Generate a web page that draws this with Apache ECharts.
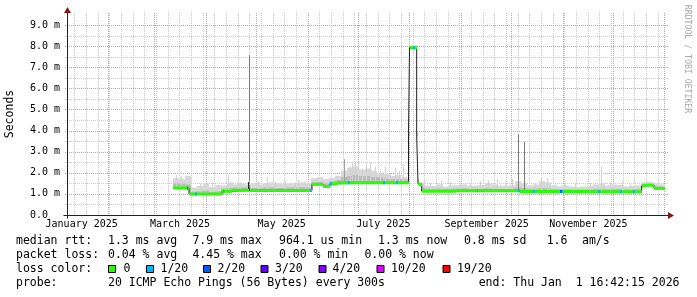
<!DOCTYPE html>
<html><head><meta charset="utf-8">
<script src="https://cdn.jsdelivr.net/npm/echarts@6/dist/echarts.min.js"></script>
<style>html,body{margin:0;padding:0;background:#fff}#c{width:697px;height:297px}</style>
</head><body><div id="c"></div>
<script>
// ---------------- data (days since 2025-01-01 00:00) ----------------
const xMinDay = 6.6, xMaxDay = 366.6;
const yMaxMs = 9.4737;
const yTickValues = [0,1,2,3,4,5,6,7,8,9];
const monthStartDays = [31,59,90,120,151,181,212,243,273,304,334,365];
const firstSunday = 11;
const xLabelNames = ['January 2025','March 2025','May 2025','July 2025','September 2025','November 2025'];
const xLabelDays  = [15.4, 74.4, 135.4, 196.4, 258.4, 319.4];

// median rtt (ms), step values starting at each day
const medDays = [70.2, 79.8, 99.6, 105.6, 115.5, 116.1, 153.6, 160.2, 164.4, 168.6, 211.5, 212.1, 216.4, 217.2, 217.8, 219.4, 240, 278.4, 320, 351.4, 352.6, 358.8];
const medVals = [1.28, 0.99, 1.12, 1.17, 1.55, 1.16, 1.45, 1.35, 1.48, 1.53, 3.87, 7.92, 3.80, 1.48, 1.44, 1.13, 1.15, 1.11, 1.10, 1.37, 1.41, 1.26];
const medEnd = 365.4;

// loss colouring spots (day, loss bucket index)
const lossDays   = [78.4, 83.4, 100.0, 152.4, 164.4, 175.2, 196.2, 204.0, 214.2, 252.4, 277.2, 286.2, 302.4, 303.3, 314.8, 325.2, 338.4, 346.2];
const lossLevels = [2, 1, 1, 1, 1, 1, 1, 1, 1, 1, 1, 1, 2, 1, 1, 1, 1, 1];
const lossSpotWidth = 0.9;

// smoke (ms): bins of 3.6 days from day 70.2
const smokeStart = 70.2, smokeStep = 3.6;
const smokeTop = [1.75,1.7,1.85,1.3,1.38,1.5,1.32,1.42,1.4,1.55, 1.45,1.5,1.45,1.5,1.45,1.52,1.55,1.5,1.47,1.5, 1.52,1.55,1.5,1.75,1.8,1.7,1.75,1.85,2.1,2.25, 2.3,2.15,2.2,2.1,2.0,1.95,1.85,1.9,1.8,1.75, 1.7,1.55,1.4,1.38,1.45,1.35,1.4,1.42,1.45,1.38, 1.4,1.42,1.5,1.45,1.4,1.38,1.42,1.6,1.5,1.4, 1.45,1.6,1.55,1.4,1.35,1.38,1.35,1.32,1.35,1.38, 1.45,1.5,1.4,1.45,1.42,1.35,1.38,1.4,1.55,1.58, 1.5,1.45];
const smokeCore = [1.5,1.48,1.45,1.1,1.12,1.15,1.1,1.12,1.25,1.28, 1.3,1.3,1.3,1.28,1.27,1.3,1.3,1.28,1.28,1.3, 1.3,1.32,1.3,1.55,1.57,1.5,1.6,1.65,1.8,1.85, 1.9,1.85,1.85,1.8,1.78,1.72,1.7,1.7,1.68,1.65, 1.6,1.3,1.25,1.24,1.25,1.24,1.25,1.26,1.27,1.25, 1.24,1.25,1.27,1.25,1.24,1.23,1.25,1.3,1.28,1.24, 1.25,1.28,1.27,1.23,1.22,1.22,1.21,1.2,1.21,1.22, 1.24,1.25,1.23,1.24,1.24,1.22,1.22,1.23,1.47,1.48, 1.36,1.34];

// single-step smoke spikes
const spikeDays   = [72.0, 75.0, 86.4, 93.6, 103.0, 109.0, 110.4, 115.8, 121.2, 126.4, 131.4, 137.4, 143.4, 145.0, 149.4,
                     173.0, 176.4, 177.6, 179.4, 181.2, 183.6, 186.0, 188.4, 191.4, 194.4, 197.4, 200.4, 203.4, 205.8, 208.0,
                     224.4, 231.0, 236.4, 242.4, 248.4, 254.4, 259.0, 264.6, 269.4, 273.6, 277.2, 280.8, 287.4, 291.0, 294.6,
                     299.4, 305.4, 311.4, 320.4, 327.0, 332.4, 339.6, 344.4];
const spikeTops   = [1.9, 1.85, 1.5, 1.55, 1.9, 1.6, 1.55, 7.58, 1.6, 1.8, 1.6, 1.6, 1.55, 1.65, 1.6,
                     2.64, 2.3, 2.5, 2.55, 2.45, 2.2, 2.4, 2.5, 2.3, 2.1, 2.3, 2.0, 2.25, 2.1, 2.4,
                     1.5, 1.65, 1.55, 1.5, 1.5, 1.6, 1.65, 1.7, 1.55, 1.7, 3.82, 3.47, 1.5, 1.8, 1.75,
                     1.45, 1.55, 1.5, 1.5, 2.3, 1.55, 1.6, 1.45];
const spikeShades = [0, 0, 0, 0, 0, 0, 0, 2, 0, 0, 0, 0, 0, 0, 0,
                     1, 0, 0, 0, 0, 0, 0, 0, 0, 0, 0, 0, 0, 0, 0,
                     0, 0, 0, 0, 0, 0, 0, 0, 0, 0, 2, 2, 0, 0, 0,
                     0, 0, 0, 0, 0, 0, 0, 0];

// legend
const lossLabels = ['0','1/20','2/20','3/20','4/20','10/20','19/20'];
const lossColors = ['#26ff00','#00b8ff','#0059ff','#5e00ff','#7e00ff','#dd00ff','#ff0000'];
const statLine1 = ['median rtt:', '1.3 ms avg', '7.9 ms max', '964.1 us min', '1.3 ms now', '0.8 ms sd', '1.6', 'am/s'];
const statLine2 = ['packet loss:', '0.04 % avg', '4.45 % max', '0.00 % min', '0.00 % now'];
const statLine3 = ['loss color:'];
const statLine4 = ['probe:', '20 ICMP Echo Pings (56 Bytes) every 300s', 'end: Thu Jan  1 16:42:15 2026'];
const yAxisName = 'Seconds';
const watermark = 'RRDTOOL / TOBI OETIKER';

// ---------------- layout ----------------
const GRID = {left: 67, top: 15, width: 600, height: 200};
const MONO = '"DejaVu Sans Mono", "Liberation Mono", monospace';
const L1X = [16, 108, 192.4, 279, 378, 464, 546.7, 582];
const L2X = [16, 108, 192.4, 279, 364.4];
const L4X = [16, 108, 478.7];
const BOXX = [108.5, 146.5, 203.5, 261, 319, 377, 443];
const BOXLX = [123.5, 160.5, 217.5, 275, 332.5, 391, 457];
const BASE = [245, 259, 273.3, 287.3];

function medianAt(d) {
  let v = medVals[0];
  for (let i = 0; i < medDays.length; i++) { if (medDays[i] <= d) v = medVals[i]; else break; }
  return v;
}

// build smoke pieces split at median breakpoints
const smokeData = [];
for (let i = 0; i < smokeTop.length; i++) {
  const b0 = smokeStart + i * smokeStep, b1 = b0 + smokeStep;
  const cuts = [b0];
  medDays.forEach(d => { if (d > b0 && d < b1) cuts.push(d); });
  cuts.push(b1);
  for (let k = 0; k < cuts.length - 1; k++) {
    const m = medianAt(cuts[k] + 1e-6);
    smokeData.push([cuts[k], cuts[k + 1], m - 0.04, Math.max(smokeTop[i], m + 0.12), Math.max(smokeCore[i], m + 0.06)]);
  }
}
const spikeData = spikeDays.map((d, i) => [d, medianAt(d), spikeTops[i], spikeShades[i]]);
const bandData = medDays.map((d, i) => [d, i + 1 < medDays.length ? medDays[i + 1] : medEnd, medVals[i]]);
const lossData = lossDays.map((d, i) => [d, d + lossSpotWidth, medianAt(d + 0.01), lossLevels[i]]);
const lineData = medDays.map((d, i) => [d, medVals[i]]).concat([[medEnd, medVals[medVals.length - 1]]]);

const gridData = [];
for (let d = firstSunday; d < xMaxDay; d += 7) if (d > xMinDay) gridData.push([0, d, 0]);
for (let v = 0.5; v < yMaxMs; v += 1) gridData.push([1, v, 0]);
monthStartDays.forEach(d => { if (d > xMinDay && d < xMaxDay) gridData.push([0, d, 1]); });
yTickValues.forEach(v => { if (v > 0) gridData.push([1, v, 1]); });

const shadeColors = ['#d2d2d2', '#a0a0a0', '#7a7a7a'];

const chart = echarts.init(document.getElementById('c'), null, {renderer: 'canvas'});
chart.setOption({
  animation: false,
  backgroundColor: '#ffffff',
  grid: {left: GRID.left, top: GRID.top, width: GRID.width, height: GRID.height, containLabel: false},
  xAxis: {
    type: 'value', min: xMinDay, max: xMaxDay,
    axisLine: {show: false}, axisTick: {show: false}, splitLine: {show: false},
    axisLabel: {
      customValues: xLabelDays, margin: 4, hideOverlap: false,
      fontFamily: MONO, fontSize: 10, color: '#000',
      formatter: v => { const i = xLabelDays.findIndex(d => Math.abs(d - v) < 0.01); return i >= 0 ? xLabelNames[i] : ''; }
    }
  },
  yAxis: {
    type: 'value', min: 0, max: yMaxMs, interval: 1,
    axisLine: {show: false}, axisTick: {show: false}, splitLine: {show: false},
    axisLabel: {
      margin: 7, fontFamily: MONO, fontSize: 10, color: '#000', showMaxLabel: false,
      formatter: v => { if (Math.abs(v - Math.round(v)) > 1e-6) return ''; return v === 0 ? '0.0  ' : v.toFixed(1) + ' m'; }
    }
  },
  series: [
    { type: 'custom', z: 1, silent: true, clip: false, data: gridData, encode: {x: 1},
      renderItem: (params, api) => {
        const o = api.value(0), v = api.value(1), c = api.value(2);
        const stroke = c === 1 ? '#ec9090' : '#cccccc';
        if (o === 0) {
          const x = Math.round(api.coord([v, 0])[0]) + 0.5;
          const yb = api.coord([v, 0])[1], yt = api.coord([v, yMaxMs])[1] - 2;
          return {type: 'line', shape: {x1: x, y1: yt, x2: x, y2: yb}, style: {stroke, lineWidth: 1, lineDash: [1, 1]}};
        }
        const y = Math.round(api.coord([xMinDay, v])[1]) + 0.5;
        const xl = api.coord([xMinDay, v])[0] - 2, xr = api.coord([xMaxDay, v])[0] + 2;
        return {type: 'line', shape: {x1: xl, y1: y, x2: xr, y2: y}, style: {stroke, lineWidth: 1, lineDash: [1, 1]}};
      }
    },
    { type: 'custom', z: 2, silent: true, data: smokeData, encode: {x: [0, 1], y: [2, 3]},
      renderItem: (params, api) => {
        const x0 = Math.round(api.coord([api.value(0), 0])[0]);
        const x1 = Math.round(api.coord([api.value(1), 0])[0]);
        const yl = api.coord([0, api.value(2)])[1];
        const yt = api.coord([0, api.value(3)])[1];
        const yc = api.coord([0, api.value(4)])[1];
        if (x1 <= x0) return null;
        return {type: 'group', children: [
          {type: 'rect', shape: {x: x0, y: yt, width: x1 - x0, height: yl - yt}, style: {fill: '#d8d8d8'}},
          {type: 'rect', shape: {x: x0, y: yc, width: x1 - x0, height: yl - yc}, style: {fill: '#bcbcbc'}}
        ]};
      }
    },
    { type: 'custom', z: 3, silent: true, data: spikeData, encode: {x: 0, y: [1, 2]},
      renderItem: (params, api) => {
        const x = Math.round(api.coord([api.value(0), 0])[0]);
        const yl = api.coord([0, api.value(1)])[1];
        const yt = api.coord([0, api.value(2)])[1];
        return {type: 'rect', shape: {x: x, y: yt, width: 1, height: yl - yt}, style: {fill: shadeColors[api.value(3)]}};
      }
    },
    { type: 'line', z: 4, silent: true, data: lineData, step: 'end', showSymbol: false, symbol: 'none',
      lineStyle: {color: '#202020', width: 1} },
    { type: 'custom', z: 5, silent: true, data: bandData, encode: {x: [0, 1], y: 2},
      renderItem: (params, api) => {
        const x0 = Math.round(api.coord([api.value(0), 0])[0]);
        const x1 = Math.round(api.coord([api.value(1), 0])[0]);
        const y = api.coord([0, api.value(2)])[1];
        return {type: 'rect', shape: {x: x0, y: y - 1.5, width: Math.max(1, x1 - x0), height: 3}, style: {fill: lossColors[0]}};
      }
    },
    { type: 'custom', z: 6, silent: true, data: lossData, encode: {x: [0, 1], y: 2},
      renderItem: (params, api) => {
        const x0 = Math.round(api.coord([api.value(0), 0])[0]);
        const x1 = Math.round(api.coord([api.value(1), 0])[0]);
        const y = api.coord([0, api.value(2)])[1];
        return {type: 'rect', shape: {x: x0, y: y - 1.5, width: Math.max(1, x1 - x0), height: 3}, style: {fill: lossColors[api.value(3)]}};
      }
    }
  ]
});

// ---------------- decorations: axes, arrows, texts ----------------
const o = chart.convertToPixel({gridIndex: 0}, [xMinDay, 0]);
const tr = chart.convertToPixel({gridIndex: 0}, [xMaxDay, yMaxMs]);
const ax = Math.round(o[0]) + 0.5, ay = Math.round(o[1]) + 0.5;
const arrowCol = '#801818';
const g = [
  {type: 'line', z: 50, shape: {x1: ax - 4, y1: ay, x2: tr[0] + 3, y2: ay}, style: {stroke: '#202020', lineWidth: 1}},
  {type: 'line', z: 50, shape: {x1: ax, y1: ay + 3, x2: ax, y2: tr[1] - 3}, style: {stroke: '#202020', lineWidth: 1}},
  {type: 'polygon', z: 51, shape: {points: [[ax - 3.5, tr[1] - 2], [ax + 3.5, tr[1] - 2], [ax, tr[1] - 8]]}, style: {fill: arrowCol}},
  {type: 'polygon', z: 51, shape: {points: [[tr[0] + 1, ay - 3.5], [tr[0] + 1, ay + 3.5], [tr[0] + 7, ay]]}, style: {fill: arrowCol}},
  {type: 'text', z: 50, x: 10.5, y: (o[1] + tr[1]) / 2 - 1, rotation: Math.PI / 2,
   style: {text: yAxisName, fontFamily: MONO, fontSize: 11.5, fill: '#000', align: 'center', verticalAlign: 'middle'}},
  {type: 'text', z: 50, x: 687.5, y: 59, rotation: -Math.PI / 2,
   style: {text: watermark, fontFamily: MONO, fontSize: 8.2, fill: '#a8a8a8', align: 'center', verticalAlign: 'middle'}}
];
function addLine(texts, xs, base) {
  texts.forEach((t, i) => g.push({type: 'text', z: 50, x: xs[i], y: base - 4,
    style: {text: t, fontFamily: MONO, fontSize: 11.5, fill: '#000', align: 'left', verticalAlign: 'middle'}}));
}
addLine(statLine1, L1X, BASE[0]);
addLine(statLine2, L2X, BASE[1]);
addLine(statLine3, [16], BASE[2]);
addLine(statLine4, L4X, BASE[3]);
lossLabels.forEach((lab, i) => {
  g.push({type: 'rect', z: 50, shape: {x: BOXX[i], y: BASE[2] - 7.8, width: 7, height: 7},
    style: {fill: lossColors[i], stroke: '#000', lineWidth: 1}});
  g.push({type: 'text', z: 50, x: BOXLX[i], y: BASE[2] - 4,
    style: {text: lab, fontFamily: MONO, fontSize: 11.5, fill: '#000', align: 'left', verticalAlign: 'middle'}});
});
chart.setOption({graphic: g});
</script>
</body></html>
